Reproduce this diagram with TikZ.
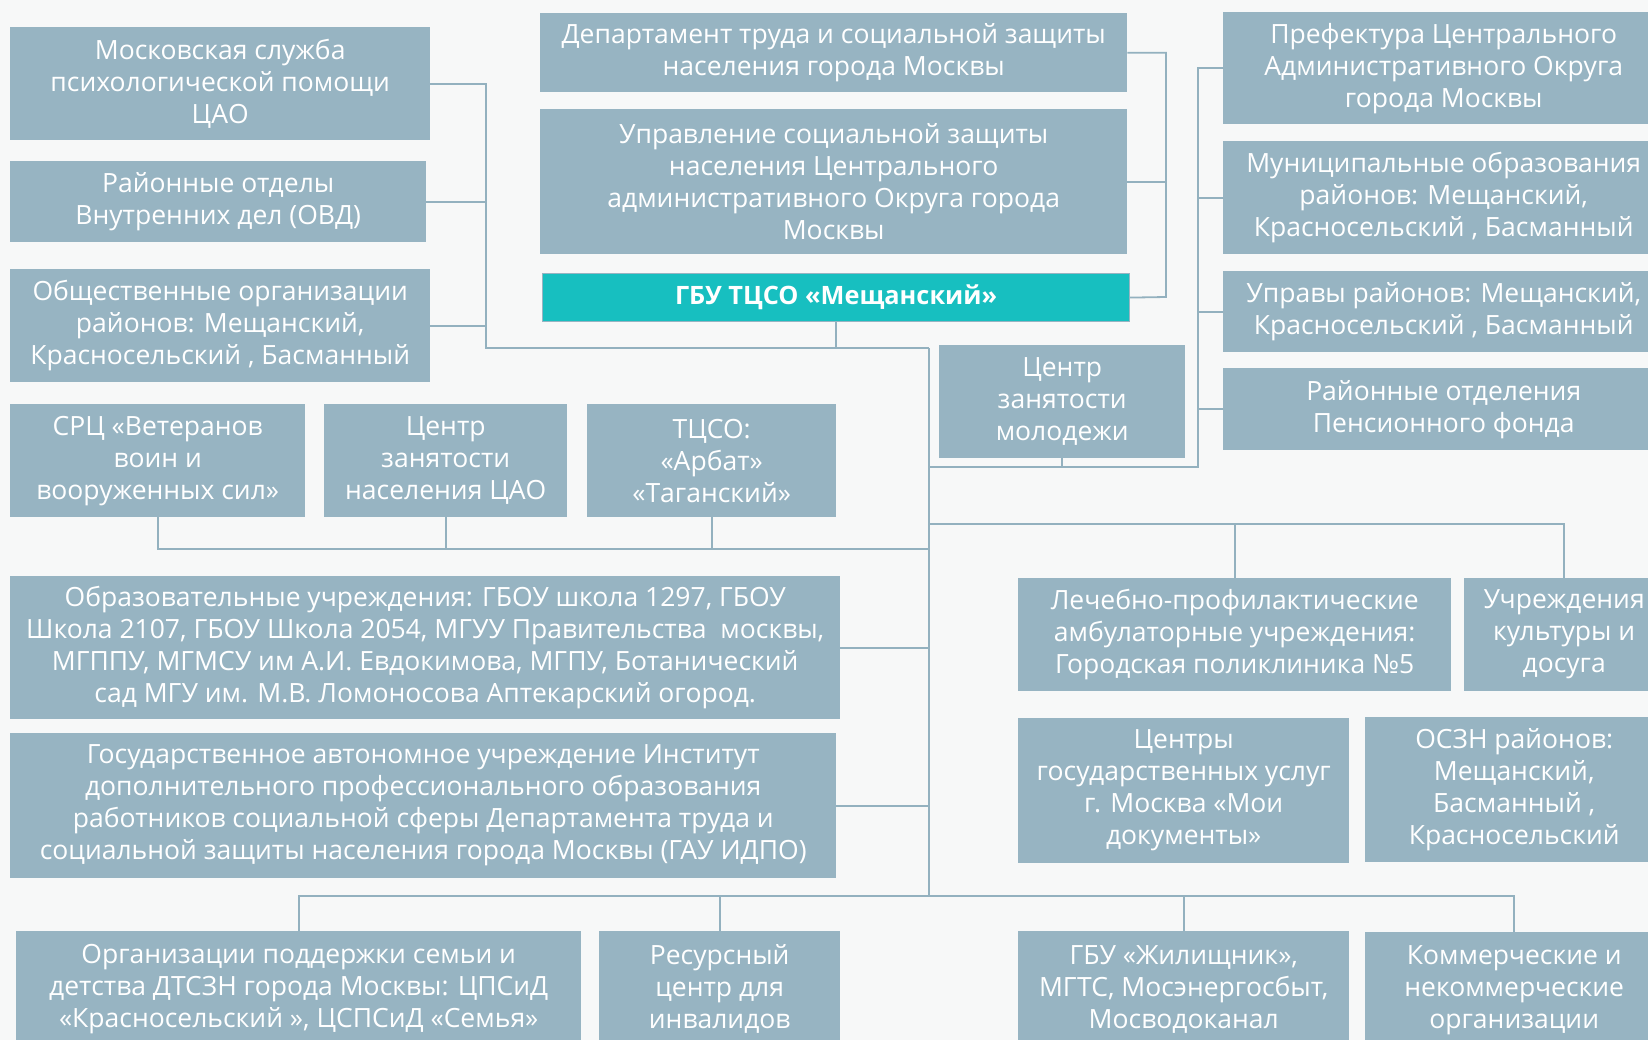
\documentclass[tikz,border=0pt]{standalone}
\usepackage{fontspec}
\setmainfont{Open Sans}
\definecolor{boxc}{HTML}{97B4C2}
\definecolor{mainc}{HTML}{17BFC0}
\definecolor{linec}{HTML}{93B1BF}
\definecolor{bgc}{HTML}{F7F8F8}
\tikzset{
  orgbox/.style={fill=boxc, text=white, align=center, inner sep=0pt,
    font=\fontsize{26.5}{32}\selectfont},
  mainbox/.style={orgbox, fill=mainc, draw=boxc, line width=1.2pt,
    font=\fontsize{25.3}{32}\selectfont\bfseries},
  conn/.style={draw=linec, line width=1.8pt},
}
\newcommand{\bx}[7][]{%
  \node[orgbox,#1,anchor=north west,minimum width={(#5-#3)*1pt},
    minimum height={(#6-#4)*1pt}] (#2) at (#3,#4) {#7};}
\begin{document}
\begin{tikzpicture}[x=1pt,y=-1pt]
\useasboundingbox (0,0) rectangle (1648,1040);
\clip (0,0) rectangle (1648,1040);
\fill[bgc] (0,0) rectangle (1648,1040);

% left column
\bx{msk}{10}{27}{430}{140}{Московская служба\\психологической помощи\\ЦАО}
\bx{ovd}{10}{161}{426}{242}{Районные отделы\\Внутренних дел (ОВД)}
\bx{obsh}{10}{269}{430}{382}{Общественные организации\\районов: Мещанский,\\Красносельский , Басманный}
% middle column
\bx{dep}{540}{13}{1127}{92}{Департамент труда и социальной защиты\\населения города Москвы}
\bx{upr}{540}{109}{1127}{254}{Управление социальной защиты\\населения Центрального\\административного Округа города\\Москвы}
\node[mainbox,anchor=north west,minimum width=587pt,minimum height=48pt] (gbu) at (542,273) {ГБУ ТЦСО «Мещанский»};
% right column
\bx{pref}{1223}{12}{1664}{124}{Префектура Центрального\\Административного Округа\\города Москвы}
\bx{mun}{1223}{141}{1664}{254}{Муниципальные образования\\районов: Мещанский,\\Красносельский , Басманный}
\bx{uprav}{1223}{271}{1664}{352}{Управы районов: Мещанский,\\Красносельский , Басманный}
\bx{pens}{1223}{368}{1664}{450}{Районные отделения\\Пенсионного фонда}
\bx{molod}{939}{345}{1185}{458}{Центр\\занятости\\молодежи}
% row of three
\bx{src}{10}{404}{305}{517}{СРЦ «Ветеранов\\воин и\\вооруженных сил»}
\bx{czn}{324}{404}{567}{517}{Центр\\занятости\\населения ЦАО}
\bx{tcso}{587}{404}{836}{517}{ТЦСО:\\«Арбат»\\«Таганский»}
% wide boxes
\bx{obr}{10}{576}{840}{719}{Образовательные учреждения: ГБОУ школа 1297, ГБОУ\\Школа 2107, ГБОУ Школа 2054, МГУУ Правительства\ \ москвы,\\МГППУ, МГМСУ им А.И. Евдокимова, МГПУ, Ботанический\\сад МГУ им. М.В. Ломоносова Аптекарский огород.}
\bx{gau}{10}{733}{836}{878}{Государственное автономное учреждение Институт\\дополнительного профессионального образования\\работников социальной сферы Департамента труда и\\социальной защиты населения города Москвы (ГАУ ИДПО)}
% right middle
\bx{lech}{1018}{578}{1451}{691}{Лечебно-профилактические\\амбулаторные учреждения:\\Городская поликлиника №5}
\bx{kult}{1464}{578}{1664}{691}{Учреждения\\культуры и\\досуга}
\bx{mfc}{1018}{718}{1349}{863}{Центры\\государственных услуг\\г. Москва «Мои\\документы»}
\bx{oszn}{1365}{717}{1663}{862}{ОСЗН районов:\\Мещанский,\\Басманный ,\\Красносельский}
% bottom row
\bx{sem}{16}{931}{581}{1047}{Организации поддержки семьи и\\детства ДТСЗН города Москвы: ЦПСиД\\«Красносельский », ЦСПСиД «Семья»}
\bx{res}{599}{931}{840}{1047}{Ресурсный\\центр для\\инвалидов}
\bx{zhil}{1018}{931}{1349}{1047}{ГБУ «Жилищник»,\\МГТС, Мосэнергосбыт,\\Мосводоканал}
\bx{kom}{1365}{932}{1663}{1049}{Коммерческие и\\некоммерческие\\организации}

% junction coordinates
\coordinate (vL) at (486,348);
\coordinate (spT) at (929,348);
\coordinate (spB) at (929,896);
\coordinate (vM) at (1166,297);
\coordinate (vR) at (1198,467);
\coordinate (hS) at (929,549);
\coordinate (hR) at (929,524);

% left bracket
\draw[conn] (msk.east) -| (vL) -- (spT);
\draw[conn] (ovd.east) -- (ovd.east -| vL);
\draw[conn] (obsh.east) -- (obsh.east -| vL);
\draw[conn] (gbu.south) -- (gbu.south |- spT);
% middle bracket
\draw[conn] (dep.east) -| (vM) -- (gbu.east);
\draw[conn] (upr.east) -- (upr.east -| vM);
% right bracket
\draw[conn] (pref.west) -| (vR) -- (vR -| spT);
\draw[conn] (mun.west) -- (mun.west -| vR);
\draw[conn] (uprav.west) -- (uprav.west -| vR);
\draw[conn] (pens.west) -- (pens.west -| vR);
\draw[conn] (molod.south) -- (molod.south |- vR);
% spine
\draw[conn] (spT) -- (spB);
% row of three
\draw[conn] (src.south) |- (hS);
\draw[conn] (czn.south) -- (czn.south |- hS);
\draw[conn] (tcso.south) -- (tcso.south |- hS);
% wide boxes
\draw[conn] (obr.east) -- (obr.east -| spB);
\draw[conn] (gau.east) -- (gau.east -| spB);
% right middle
\draw[conn] (hR) -| (kult.north);
\draw[conn] (lech.north) -- (lech.north |- hR);
% bottom
\draw[conn] (sem.north) |- (spB) -| (kom.north);
\draw[conn] (res.north) -- (res.north |- spB);
\draw[conn] (zhil.north) -- (zhil.north |- spB);
\end{tikzpicture}
\end{document}
